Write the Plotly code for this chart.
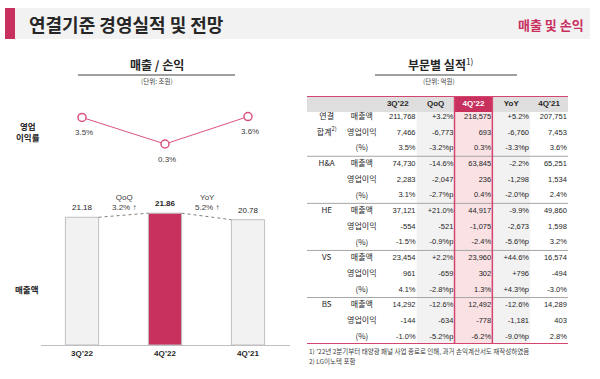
import plotly.graph_objects as go

# ---------------- data ----------------
categories = ["3Q’22", "4Q’22", "4Q’21"]
sales = [21.18, 21.86, 20.78]          # 매출액 (조원)
margin = [3.5, 0.3, 3.6]               # 영업이익률 (%)
qoq_text = "3.2% ↑"
yoy_text = "5.2% ↑"

table_columns = ["3Q’22", "QoQ", "4Q’22", "YoY", "4Q’21"]
segments = ["연결", "H&A", "HE", "VS", "BS"]
metrics = ["매출액", "영업이익", "(%)"]
col_3q22 = ["211,768", "7,466", "3.5%", "74,730", "2,283", "3.1%", "37,121", "-554", "-1.5%",
            "23,454", "961", "4.1%", "14,292", "-144", "-1.0%"]
col_qoq = ["+3.2%", "-6,773", "-3.2%p", "-14.6%", "-2,047", "-2.7%p", "+21.0%", "-521", "-0.9%p",
           "+2.2%", "-659", "-2.8%p", "-12.6%", "-634", "-5.2%p"]
col_4q22 = ["218,575", "693", "0.3%", "63,845", "236", "0.4%", "44,917", "-1,075", "-2.4%",
            "23,960", "302", "1.3%", "12,492", "-778", "-6.2%"]
col_yoy = ["+5.2%", "-6,760", "-3.3%p", "-2.2%", "-1,298", "-2.0%p", "-9.9%", "-2,673", "-5.6%p",
           "+44.6%", "+796", "+4.3%p", "-12.6%", "-1,181", "-9.0%p"]
col_4q21 = ["207,751", "7,453", "3.6%", "65,251", "1,534", "2.4%", "49,860", "1,598", "3.2%",
            "16,574", "-494", "-3.0%", "14,289", "403", "2.8%"]
footnotes = ["1) ’22년 2분기부터 태양광 패널 사업 종료로 인해, 과거 손익계산서도 재작성하였음",
             "2) LG이노텍 포함"]

# ---------------- style ----------------
W, H = 600, 379
PINK = "#c8305e"
LINE_PINK = "#d9537f"
DARK = "#262626"
FONT = "Liberation Sans, Arial, Noto Sans CJK KR, sans-serif"
KFONT = "Noto Sans CJK KR, Liberation Sans, sans-serif"


def px(x):
    return x / W


def py(y):
    return 1 - y / H


fig = go.Figure()

# ---- bars (매출액) ----
bar_colors = ["#f2f2f2", PINK, "#f2f2f2"]
fig.add_trace(go.Bar(x=list(range(len(categories))), y=sales, width=0.4,
                     marker=dict(color=bar_colors, line=dict(color="#bfbfbf", width=1)),
                     xaxis="x", yaxis="y", showlegend=False, hoverinfo="skip"))

# dotted connectors between bar tops
dx, dy = [], []
for i in range(len(sales) - 1):
    dx += [i + 0.2, i + 0.8, None]
    dy += [sales[i], sales[i + 1], None]
fig.add_trace(go.Scatter(x=dx, y=dy, mode="lines", line=dict(color="#7f7f7f", width=1, dash="dot"),
                         xaxis="x", yaxis="y", showlegend=False, hoverinfo="skip"))

# ---- line (영업이익률) ----
fig.add_trace(go.Scatter(x=list(range(len(categories))), y=margin, mode="lines+markers",
                         line=dict(color=LINE_PINK, width=1),
                         marker=dict(symbol="circle", size=8, color="white",
                                     line=dict(color=LINE_PINK, width=1.5)),
                         xaxis="x", yaxis="y2", showlegend=False, hoverinfo="skip"))

# ---- table cells ----
rows = list(range(len(col_3q22)))
for k, col in enumerate([col_3q22, col_qoq, col_4q22, col_yoy, col_4q21]):
    fig.add_trace(go.Scatter(x=[k + 0.97] * len(col), y=rows, mode="text", text=col,
                             textposition="middle left",
                             textfont=dict(family=FONT, size=7.5, color=DARK),
                             xaxis="x3", yaxis="y3", showlegend=False, hoverinfo="skip"))

# header texts
fig.add_trace(go.Scatter(x=[k + 0.5 for k in range(len(table_columns))], y=[-0.83] * len(table_columns),
                         mode="text", text=["<b>%s</b>" % c for c in table_columns],
                         textposition="middle center",
                         textfont=dict(family=FONT, size=8,
                                       color=[DARK, DARK, "white", DARK, DARK]),
                         xaxis="x3", yaxis="y3", showlegend=False, hoverinfo="skip"))

# metric labels
metric_text = [metrics[i % 3] for i in rows]
fig.add_trace(go.Scatter(x=[-0.45] * len(rows), y=rows, mode="text", text=metric_text,
                         textposition="middle center",
                         textfont=dict(family=KFONT, size=8, color=DARK),
                         xaxis="x3", yaxis="y3", showlegend=False, hoverinfo="skip"))

# segment labels
seg_y = [3 * i for i in range(len(segments))] + [1]
seg_text = segments + ["합계<sup>2)</sup>"]
fig.add_trace(go.Scatter(x=[-1.38] * len(seg_y), y=seg_y, mode="text", text=seg_text,
                         textposition="middle center",
                         textfont=dict(family=KFONT, size=8, color=DARK),
                         xaxis="x3", yaxis="y3", showlegend=False, hoverinfo="skip"))

# ---------------- shapes ----------------
shapes = []
# header band
shapes.append(dict(type="rect", xref="paper", yref="paper", x0=px(15), x1=px(590), y0=py(39), y1=py(8),
                   fillcolor="#f2f2f2", line=dict(width=0), layer="below"))
shapes.append(dict(type="rect", xref="paper", yref="paper", x0=px(5), x1=px(15), y0=py(39), y1=py(8),
                   fillcolor=PINK, line=dict(width=0), layer="below"))
# section underlines
shapes.append(dict(type="line", xref="paper", yref="paper", x0=px(78), x1=px(235), y0=py(75), y1=py(75),
                   line=dict(color="#7f7f7f", width=1.5)))
shapes.append(dict(type="line", xref="paper", yref="paper", x0=px(375), x1=px(517), y0=py(75), y1=py(75),
                   line=dict(color="#7f7f7f", width=1.5)))

TOP, HB, BOT, L, R = -1.34, -0.32, 14.46, -1.9, 5.0
shapes.append(dict(type="rect", xref="x3", yref="y3", x0=L, x1=R, y0=TOP, y1=HB,
                   fillcolor="#dedede", line=dict(width=0), layer="below"))
for k in (1, 3):
    shapes.append(dict(type="rect", xref="x3", yref="y3", x0=k, x1=k + 1, y0=HB, y1=BOT,
                       fillcolor="#f2f2f2", line=dict(width=0), layer="below"))
shapes.append(dict(type="rect", xref="x3", yref="y3", x0=2, x1=3, y0=HB, y1=BOT,
                   fillcolor="#f9e1e4", line=dict(width=0), layer="below"))
shapes.append(dict(type="rect", xref="x3", yref="y3", x0=2, x1=3, y0=TOP, y1=HB,
                   fillcolor=PINK, line=dict(width=0), layer="below"))
for yv in (2.5, 5.5, 8.5, 11.5):
    shapes.append(dict(type="line", xref="x3", yref="y3", x0=L, x1=R, y0=yv, y1=yv,
                       line=dict(color="#a6a6a6", width=1)))
for xv in (2, 3):
    shapes.append(dict(type="line", xref="x3", yref="y3", x0=xv, x1=xv, y0=TOP, y1=BOT,
                       line=dict(color="#d4466f", width=1.5)))
for yv in (TOP, BOT):
    shapes.append(dict(type="line", xref="x3", yref="y3", x0=L, x1=R, y0=yv, y1=yv,
                       line=dict(color="#d4466f", width=2)))

# ---------------- annotations ----------------
ann = []
ann.append(dict(text="<b>연결기준 경영실적 및 전망</b>", x=px(27), y=py(24.5), xref="paper", yref="paper",
                xanchor="left", yanchor="middle", showarrow=False,
                font=dict(family=KFONT, size=18, color=DARK)))
ann.append(dict(text="<b>매출 및 손익</b>", x=px(586), y=py(24.5), xref="paper", yref="paper",
                xanchor="right", yanchor="middle", showarrow=False,
                font=dict(family=KFONT, size=13, color=PINK)))
ann.append(dict(text="<b>매출 / 손익</b>", x=px(157), y=py(65), xref="paper", yref="paper",
                xanchor="center", yanchor="middle", showarrow=False,
                font=dict(family=KFONT, size=12, color=DARK)))
ann.append(dict(text="(단위: 조원)", x=px(157), y=py(81), xref="paper", yref="paper",
                xanchor="center", yanchor="middle", showarrow=False,
                font=dict(family=KFONT, size=6.5, color="#404040")))
ann.append(dict(text="<b>부문별 실적</b><sup>1)</sup>", x=px(441), y=py(64), xref="paper", yref="paper",
                xanchor="center", yanchor="middle", showarrow=False,
                font=dict(family=KFONT, size=12, color=DARK)))
ann.append(dict(text="(단위: 억원)", x=px(439), y=py(81), xref="paper", yref="paper",
                xanchor="center", yanchor="middle", showarrow=False,
                font=dict(family=KFONT, size=6.5, color="#404040")))
ann.append(dict(text="<b>영업<br>이익률</b>", x=px(28), y=py(131), xref="paper", yref="paper",
                xanchor="center", yanchor="middle", showarrow=False,
                font=dict(family=KFONT, size=8.5, color=DARK)))
ann.append(dict(text="<b>매출액</b>", x=px(27), y=py(289), xref="paper", yref="paper",
                xanchor="center", yanchor="middle", showarrow=False,
                font=dict(family=KFONT, size=8.5, color=DARK)))

# margin labels
for i, v in enumerate(margin):
    ann.append(dict(text="%.1f%%" % v, x=i, y=v, xref="x", yref="y2", xshift=2, yshift=-15,
                    xanchor="center", yanchor="middle", showarrow=False,
                    font=dict(family=FONT, size=8, color="#404040")))
# bar value labels
for i, v in enumerate(sales):
    t = "%.2f" % v
    if i == 1:
        t = "<b>%s</b>" % t
    ann.append(dict(text=t, x=i, y=v, xref="x", yref="y", yshift=9.5,
                    xanchor="center", yanchor="middle", showarrow=False,
                    font=dict(family=FONT, size=8, color=DARK)))
# QoQ / YoY
ann.append(dict(text="QoQ<br>" + qoq_text, x=0.5, y=max(sales[0], sales[1]), xref="x", yref="y",
                yshift=10.5, xanchor="center", yanchor="middle", showarrow=False,
                font=dict(family="Liberation Sans, DejaVu Sans, sans-serif", size=8, color="#404040")))
ann.append(dict(text="YoY<br>" + yoy_text, x=1.5, y=max(sales[1], sales[2]), xref="x", yref="y",
                yshift=11, xanchor="center", yanchor="middle", showarrow=False,
                font=dict(family="Liberation Sans, DejaVu Sans, sans-serif", size=8, color="#404040")))
# footnotes
for j, t in enumerate(footnotes):
    ann.append(dict(text=t, x=px(307), y=py(351 + 10 * j), xref="paper", yref="paper",
                    xanchor="left", yanchor="middle", showarrow=False,
                    font=dict(family=KFONT, size=6.5, color="#404040")))

fig.update_layout(
    template="none",
    width=W, height=H,
    margin=dict(l=0, r=0, t=0, b=0),
    paper_bgcolor="white", plot_bgcolor="rgba(0,0,0,0)",
    showlegend=False,
    shapes=shapes,
    annotations=ann,
    xaxis=dict(domain=[px(40.5), px(289.5)], range=[-0.5, 2.5], tickvals=list(range(len(categories))),
               ticktext=["<b>%s</b>" % c for c in categories], tickfont=dict(family=FONT, size=8, color=DARK),
               showgrid=False, zeroline=False, showline=True, linecolor="#bfbfbf", linewidth=1,
               ticks="", automargin=False, fixedrange=True),
    yaxis=dict(domain=[py(345), py(185)], range=[0, 26.53], visible=False, showgrid=False,
               zeroline=False, automargin=False),
    yaxis2=dict(domain=[py(165), py(100)], range=[-2.23, 5.60], visible=False, anchor="x",
                showgrid=False, zeroline=False, automargin=False),
    xaxis3=dict(domain=[px(307), px(568)], range=[L, R], visible=False, anchor="y3",
                showgrid=False, zeroline=False, automargin=False),
    yaxis3=dict(domain=[py(344), py(96)], range=[BOT, TOP], visible=False, anchor="x3",
                showgrid=False, zeroline=False, automargin=False),
)

fig.write_html("out.html", config={"displayModeBar": False},
               post_script="document.body.style.margin='0px';document.body.style.overflow='hidden';")
